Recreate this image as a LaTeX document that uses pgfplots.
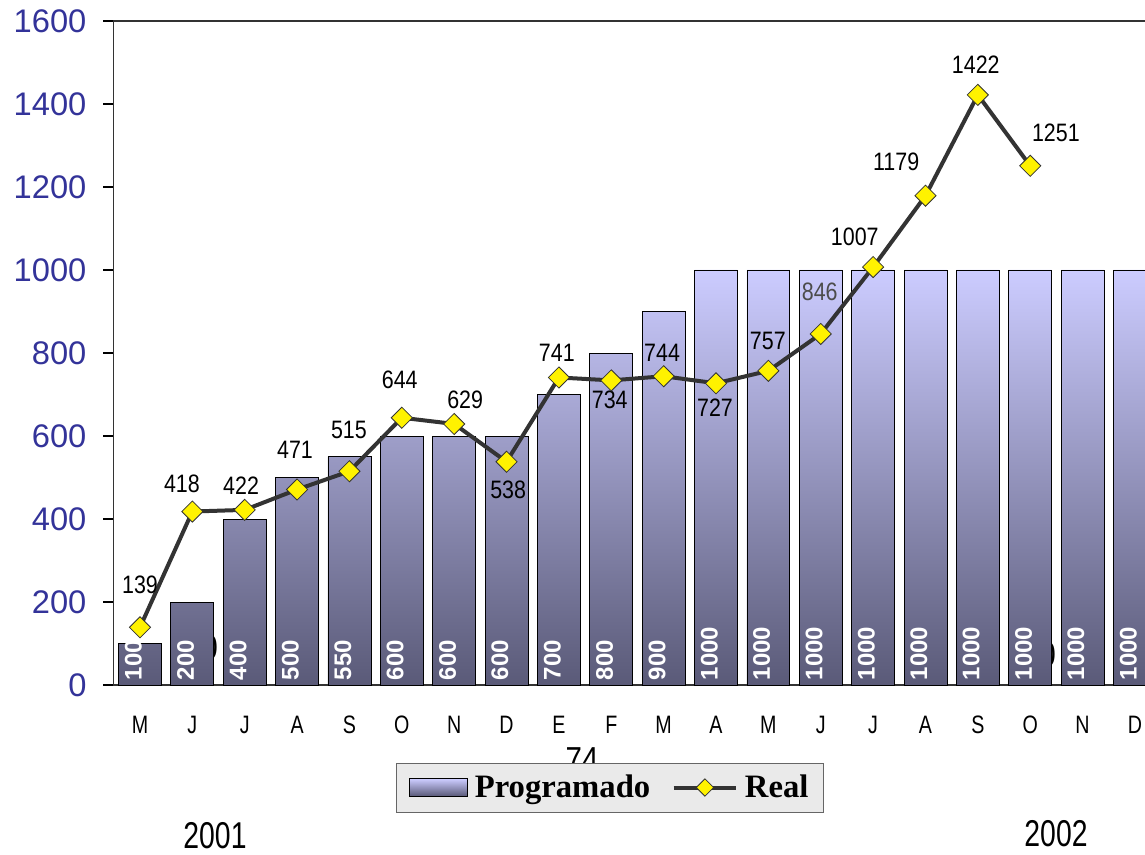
\documentclass[border=0pt]{standalone}
\usepackage{pgfplots}
\pgfplotsset{compat=1.18}
\usepackage{fontspec}
\setmainfont{Liberation Sans}
\newfontfamily\legserif{Liberation Serif}

\definecolor{ytk}{HTML}{333399}
\definecolor{barTop}{HTML}{CCCCFF}
\definecolor{barBot}{HTML}{5A5A78}
\definecolor{linec}{HTML}{333333}
\definecolor{legbg}{HTML}{EAEAEA}

\newcommand\dl[1]{\scalebox{0.85}[1]{#1}}
\newcommand\sx[1]{\scalebox{0.78}[1]{#1}}

\begin{document}
\begin{tikzpicture}[x=0.75pt,y=0.75pt]
\useasboundingbox (0,0) rectangle (1145,854);
% stray text that sits behind the bars and the legend
\node[font=\fontsize{26}{28}\selectfont] at (210,206) {\scalebox{0.8}[1]{0}};
\node[font=\fontsize{26}{28}\selectfont] at (1048,199) {\scalebox{0.8}[1]{0}};
\node[font=\fontsize{26}{28}\selectfont, anchor=north] at (582,111) {\scalebox{0.85}[1]{74}};
\begin{axis}[
  at={(85.35pt,126.75pt)}, anchor=south west,
  width=785.5pt, height=498pt, scale only axis,
  xmin=-0.5, xmax=19.5, ymin=0, ymax=1600,
  axis line style={linec, line width=1pt},
  tick align=outside, xtick pos=bottom, ytick pos=left,
  ytick={0,200,...,1600},
  major tick length=8pt,
  tick style={black, line width=0.8pt},
  yticklabel style={text=ytk, font=\fontsize{24.5}{26}\selectfont, xshift=-9pt},
  /pgf/number format/assume math mode=true,
  /pgf/number format/1000 sep={},
  xtick={0,...,19},
  xticklabels={\sx{M},\sx{J},\sx{J},\sx{A},\sx{S},\sx{O},\sx{N},\sx{D},\sx{E},\sx{F},
    \sx{M},\sx{A},\sx{M},\sx{J},\sx{J},\sx{A},\sx{S},\sx{O},\sx{N},\sx{D}},
  x tick style={draw=none},
  minor xtick={-0.5,0.5,...,19.5},
  minor tick length=6pt,
  minor x tick style={black, line width=0.8pt},
  xticklabel style={font=\fontsize{18.9}{20}\selectfont, yshift=-12pt},
  legend style={at={(0.4737,-0.1544)}, anchor=center, draw=black!60,
    fill=legbg, font=\legserif\bfseries\fontsize{24.5}{26}\selectfont,
    legend columns=-1, inner xsep=9pt, inner ysep=7pt,
    /tikz/every even column/.append style={column sep=14pt},
    /tikz/every odd column/.append style={column sep=3pt}},
  clip=false,
]
\addplot[ybar, bar width=0.82, draw=black, line width=0.6pt,
  top color=barTop, bottom color=barBot,
  legend image code/.code={\draw[top color=barTop, bottom color=barBot, draw=black, line width=0.6pt] (0pt,-6.5pt) rectangle (44pt,6.5pt);}]
  coordinates {(0,100) (1,200) (2,400) (3,500) (4,550) (5,600) (6,600) (7,600)
    (8,700) (9,800) (10,900) (11,1000) (12,1000) (13,1000) (14,1000) (15,1000)
    (16,1000) (17,1000) (18,1000) (19,1000)};
\addlegendentry{Programado}
\addplot[forget plot, draw=none, nodes near coords, point meta=explicit symbolic,
  every node near coord/.style={rotate=90, anchor=west, text=white, yshift=5pt,
    font=\bfseries\fontsize{18}{20}\selectfont}]
  table[meta=l] {
x y l
0 0 100
1 0 200
2 0 400
3 0 500
4 0 550
5 0 600
6 0 600
7 0 600
8 0 700
9 0 800
10 0 900
11 0 1000
12 0 1000
13 0 1000
14 0 1000
15 0 1000
16 0 1000
17 0 1000
18 0 1000
19 0 1000
};
\addplot[linec, line width=3pt, mark=square*,
  mark options={rotate=45, fill=yellow, draw=linec, line width=0.6pt},
  mark size=5.6pt,
  legend image code/.code={\draw[linec, line width=3pt] (0pt,0pt) -- (47pt,0pt);
    \draw[fill=yellow, draw=linec, line width=0.6pt] (23.5pt,6.5pt) -- (30pt,0pt) -- (23.5pt,-6.5pt) -- (17pt,0pt) -- cycle;}]
  coordinates {(0,139) (1,418) (2,422) (3,471) (4,515) (5,644) (6,629) (7,538)
    (8,741) (9,734) (10,744) (11,727) (12,757) (13,846) (14,1007) (15,1179)
    (16,1422) (17,1251)};
\addlegendentry{Real}
\begin{scope}[every node/.style={font=\fontsize{18.9}{20}\selectfont}]
\node at (axis cs:0,241) {\dl{139}};
\node at (axis cs:0.8,484) {\dl{418}};
\node at (axis cs:1.93,480) {\dl{422}};
\node at (axis cs:2.96,566) {\dl{471}};
\node at (axis cs:3.99,614) {\dl{515}};
\node at (axis cs:4.96,735) {\dl{644}};
\node at (axis cs:6.21,687) {\dl{629}};
\node at (axis cs:7.03,470) {\dl{538}};
\node at (axis cs:7.96,800) {\dl{741}};
\node at (axis cs:8.97,687) {\dl{734}};
\node at (axis cs:9.97,800) {\dl{744}};
\node at (axis cs:10.98,667) {\dl{727}};
\node at (axis cs:11.99,829) {\dl{757}};
\node[text=black!70] at (axis cs:12.98,947) {\dl{846}};
\node at (axis cs:13.65,1080) {\dl{1007}};
\node at (axis cs:14.44,1260) {\dl{1179}};
\node at (axis cs:15.96,1494) {\dl{1422}};
\node at (axis cs:17.49,1330) {\dl{1251}};
\end{scope}
\end{axis}
\node[font=\fontsize{28}{30}\selectfont] at (215,18) {\scalebox{0.76}[1]{2001}};
\node[font=\fontsize{28}{30}\selectfont] at (1056,20) {\scalebox{0.76}[1]{2002}};
\end{tikzpicture}
\end{document}
